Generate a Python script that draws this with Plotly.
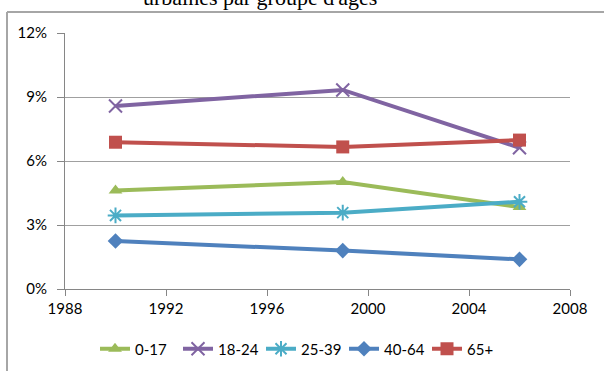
import plotly.graph_objects as go

years = [1990, 1999, 2006]
series_names = ["0-17", "18-24", "25-39", "40-64", "65+"]
v_0_17 = [4.62, 5.02, 3.84]
v_18_24 = [8.58, 9.33, 6.62]
v_25_39 = [3.45, 3.58, 4.09]
v_40_64 = [2.25, 1.80, 1.39]
v_65 = [6.88, 6.66, 6.98]
y_ticks = [0, 3, 6, 9, 12]
y_tick_labels = ["0%", "3%", "6%", "9%", "12%"]
x_ticks = [1988, 1992, 1996, 2000, 2004, 2008]

values = [v_0_17, v_18_24, v_25_39, v_40_64, v_65]
colors = ["#9BBB59", "#8064A2", "#4BACC6", "#4F81BD", "#C0504D"]
symbols = ["triangle-up", "x-thin-open", "asterisk-open", "diamond", "square"]
msizes = [12, 13, 13, 12, 13]

fig = go.Figure()
for name, vals, c, s, ms in zip(series_names, values, colors, symbols, msizes):
    open_sym = s.endswith("open")
    fig.add_trace(go.Scatter(
        x=years, y=vals, name=name, mode="lines+markers",
        line=dict(color=c, width=4),
        marker=dict(symbol=s, size=ms, color=c,
                    line=dict(color=c, width=2 if open_sym else 0)),
    ))

L, R, T, B = 65, 34, 33, 82
W, H = 604, 371
pw, ph = W - L - R, H - T - B

def px(x):
    return (x - L) / pw

def py(y):
    return (H - B - y) / ph

fig.update_layout(
    width=W, height=H,
    margin=dict(l=L, r=R, t=T, b=B, autoexpand=False),
    paper_bgcolor="white", plot_bgcolor="white",
    font=dict(family="Lato", size=15, color="#000000"),
    showlegend=True,
    legend=dict(orientation="h", x=px(95), xanchor="left", y=py(349), yanchor="middle",
                entrywidth=38, entrywidthmode="pixels", font=dict(size=15),
                itemwidth=30, tracegroupgap=0),
    xaxis=dict(range=[1988, 2008], tickvals=x_ticks, ticks="outside", ticklen=6,
               tickcolor="#868686", showgrid=False, showline=True, linecolor="#868686",
               linewidth=1, zeroline=False, fixedrange=True, automargin=False),
    yaxis=dict(range=[0, 12], tickvals=y_ticks, ticktext=y_tick_labels, ticks="outside",
               ticklen=7, tickcolor="#868686", showgrid=True, gridcolor="#A0A0A0",
               gridwidth=1, showline=True, linecolor="#868686", linewidth=1,
               zeroline=False, fixedrange=True, automargin=False, ticklabelstandoff=7),
    shapes=[
        dict(type="line", xref="paper", yref="paper", x0=px(7), x1=px(7), y0=py(12), y1=py(375),
             line=dict(color="#A6A6A6", width=2)),
        dict(type="line", xref="paper", yref="paper", x0=px(7), x1=px(610), y0=py(12), y1=py(12),
             line=dict(color="#A6A6A6", width=2)),
    ],
    annotations=[
        dict(text="urbaines par groupe d'âges", xref="paper", yref="paper",
             x=px(260), y=py(-3), xanchor="center", yanchor="middle", showarrow=False,
             font=dict(family="Liberation Serif", size=22, color="#000000")),
    ],
)

fig.write_html("out.html", config={"displayModeBar": False},
               post_script="document.body.style.margin='0';document.body.style.overflow='hidden';")
